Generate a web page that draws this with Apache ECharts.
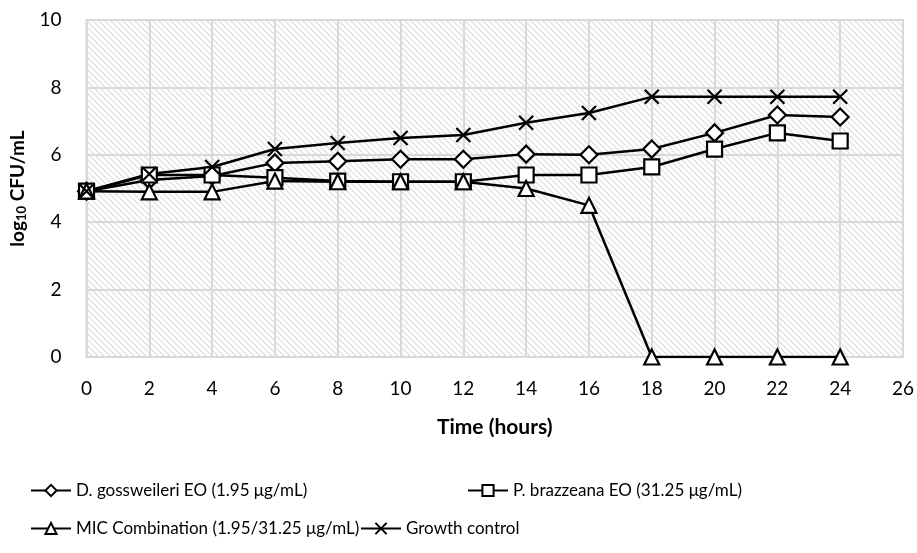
<!DOCTYPE html>
<html><head><meta charset="utf-8">
<script src="https://cdn.jsdelivr.net/npm/echarts@6/dist/echarts.min.js"></script>
<style>html,body{margin:0;padding:0;background:#fff}#c{width:917px;height:553px}</style>
</head><body><div id="c"></div>
<script>
const hours = [0,2,4,6,8,10,12,14,16,18,20,22,24];
const gossweileri = [4.92,5.25,5.37,5.76,5.81,5.87,5.87,6.02,6.0,6.17,6.65,7.18,7.12];
const brazzeana = [4.92,5.4,5.4,5.32,5.22,5.2,5.2,5.4,5.4,5.64,6.17,6.65,6.41];
const combination = [4.92,4.9,4.9,5.22,5.2,5.2,5.2,5.0,4.5,0,0,0,0];
const growth = [4.92,5.43,5.64,6.17,6.35,6.5,6.59,6.95,7.24,7.72,7.72,7.72,7.72];
const names = ['D. gossweileri EO (1.95 μg/mL)','P. brazzeana EO (31.25 μg/mL)','MIC Combination (1.95/31.25 μg/mL)','Growth control'];
const xTicks = {min:0,max:26,interval:2};
const yTicks = {min:0,max:10,interval:2};

const P = 6;
const cv = document.createElement('canvas');
cv.width = P; cv.height = P;
const g = cv.getContext('2d');
g.fillStyle = '#fff'; g.fillRect(0,0,P,P);
g.strokeStyle = '#e0e0e0'; g.lineWidth = 1.3;
g.beginPath(); g.moveTo(-1,-1); g.lineTo(P+1,P+1); g.moveTo(-1,P-1); g.lineTo(1,P+1); g.moveTo(P-1,-1); g.lineTo(P+1,1); g.stroke();

const pair = a => hours.map((h,i)=>[h,a[i]]);
const font = 'Lato';
const mk = (name, data, symbol, size) => ({
  name, type:'line', data: pair(data), symbol, symbolSize:size,
  lineStyle:{color:'#000',width:2.5},
  itemStyle:{color:'#fff',borderColor:'#000',borderWidth:2.2},
  emphasis:{disabled:true}, z:3
});
const crossPath = 'path://M0,0L10,10M10,0L0,10';
const series = [
  mk(names[0], gossweileri, 'diamond', 17),
  mk(names[1], brazzeana, 'rect', 15),
  mk(names[2], combination, 'triangle', 15),
  Object.assign(mk(names[3], growth, crossPath, 14), {itemStyle:{color:'none',borderColor:'#000',borderWidth:2.2}})
];
const leg = (n, left, top) => ({
  data:[n], left, top, itemWidth:40, itemHeight:14, orient:'horizontal',
  textStyle:{fontFamily:font,fontSize:17,color:'#000'}, selectedMode:false, padding:0
});
const chart = echarts.init(document.getElementById('c'));
chart.setOption({
  animation:false,
  grid:{left:85,right:13,top:20,bottom:196,show:true,borderColor:'#d9d9d9',borderWidth:2,
    backgroundColor:{image:cv,repeat:'repeat'}},
  xAxis:{type:'value',min:xTicks.min,max:xTicks.max,interval:xTicks.interval,
    name:'Time (hours)',nameLocation:'middle',nameGap:60,
    nameTextStyle:{fontFamily:font,fontSize:21,fontWeight:'bold',color:'#000'},
    axisLine:{show:true,lineStyle:{color:'#d9d9d9',width:2}},axisTick:{show:false},
    axisLabel:{fontFamily:font,fontSize:19,color:'#000',margin:22},
    splitLine:{show:true,lineStyle:{color:'#d9d9d9',width:2}}},
  yAxis:{type:'value',min:yTicks.min,max:yTicks.max,interval:yTicks.interval,
    name:'{a|log}{s|10}{a| CFU/mL}',nameLocation:'middle',nameGap:58,
    nameTextStyle:{rich:{a:{fontFamily:font,fontSize:19,fontWeight:'bold',color:'#000'},
      s:{fontFamily:font,fontSize:13,fontWeight:'bold',color:'#000',verticalAlign:'bottom',padding:[9,0,0,0]}}},
    axisLine:{show:true,lineStyle:{color:'#d9d9d9',width:2}},axisTick:{show:false},
    axisLabel:{fontFamily:font,fontSize:19,color:'#000',margin:25},
    splitLine:{show:true,lineStyle:{color:'#d9d9d9',width:2}}},
  legend:[leg(names[0],30,482),leg(names[1],467,482),leg(names[2],30,520),leg(names[3],360,520)],
  series
});
</script></body></html>
